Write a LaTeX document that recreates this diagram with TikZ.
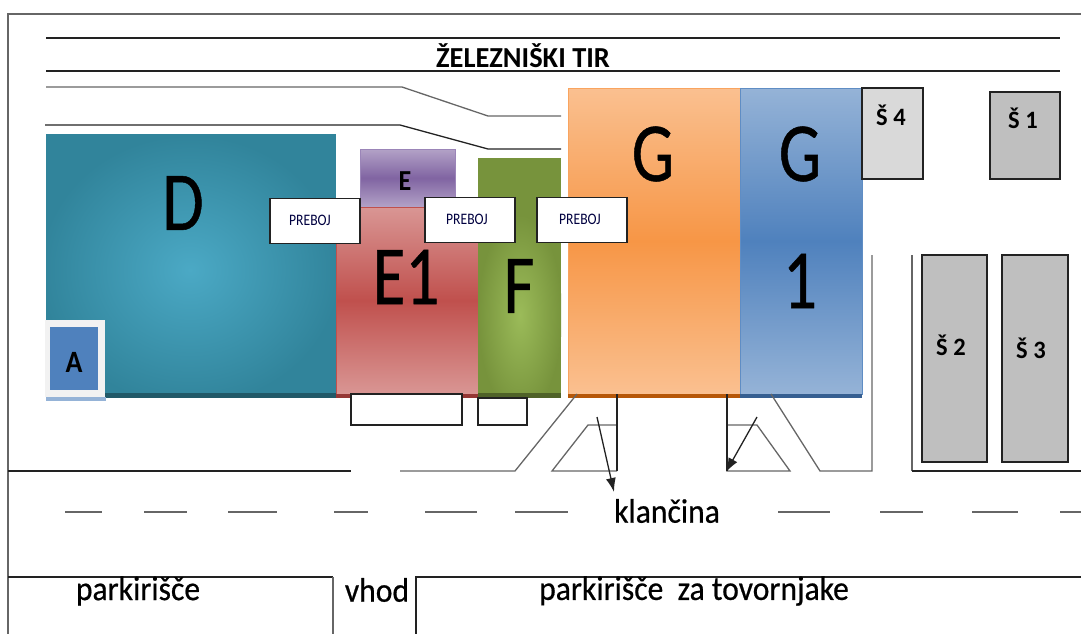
\documentclass[tikz,border=0pt]{standalone}
\usepackage{fontspec}
\usetikzlibrary{arrows.meta}
\setmainfont{Carlito}
\newfontfamily\semib[FakeBold=0.6]{Carlito}
\definecolor{lineK}{HTML}{222222}
\definecolor{lineG}{HTML}{666666}
\definecolor{dIn}{HTML}{4BA9C5}
\definecolor{dOut}{HTML}{31849B}
\definecolor{dDk}{HTML}{215968}
\definecolor{eLt}{HTML}{B3A2C7}
\definecolor{eMd}{HTML}{8064A2}
\definecolor{eBd}{HTML}{9B85B8}
\definecolor{rLt}{HTML}{D99694}
\definecolor{rMd}{HTML}{C0504D}
\definecolor{rDk}{HTML}{953735}
\definecolor{fIn}{HTML}{9BBB59}
\definecolor{fOut}{HTML}{77933C}
\definecolor{fDk}{HTML}{4F6228}
\definecolor{oLt}{HTML}{FAC090}
\definecolor{oMd}{HTML}{F79646}
\definecolor{oBd}{HTML}{F9A45F}
\definecolor{oDk}{HTML}{B65708}
\definecolor{bLt}{HTML}{95B3D7}
\definecolor{bMd}{HTML}{4F81BD}
\definecolor{bBd}{HTML}{5F8DC4}
\definecolor{bDk}{HTML}{365F91}
\definecolor{gyA}{HTML}{D9D9D9}
\definecolor{gyB}{HTML}{BFBFBF}
\definecolor{gyC}{HTML}{F2F2F2}
\tikzset{
 x=1pt,y=-1pt,
 thinK/.style={draw=lineK,line width=1.3pt},
 thinG/.style={draw=lineG,line width=1.3pt},
 prebojbox/.style={draw=lineK,fill=white,line width=1.2pt,minimum width=90pt,minimum height=45pt,inner sep=0pt},
 prebojtxt/.style={lbl,font=\fontsize{16}{16}\selectfont,xscale=.85,text=black!75!blue},
 shedbox/.style={draw=lineK,line width=1.3pt},
 lbl/.style={inner sep=0pt,text=black},
 biglbl/.style={lbl,font=\semib\fontsize{84}{84}\selectfont,xscale=.8},
 midlbl/.style={lbl,font=\bfseries\fontsize{31}{31}\selectfont,xscale=.9},
 smalllbl/.style={lbl,font=\bfseries\fontsize{25}{25}\selectfont,xscale=.98},
 roadlbl/.style={lbl,font=\semib\fontsize{34}{34}\selectfont,xscale=.93},
}
\begin{document}
\begin{tikzpicture}
\useasboundingbox (0,0) rectangle (1081,634);
% frame
\draw[thinG,line width=1.6pt] (8,634)--(8,14)--(1081,14);
% rails
\draw[thinK] (46,38)--(1060,38);
\draw[thinK] (46,71)--(1060,71);
\draw[thinG] (46,87)--(402,87)--(488,116)--(561,116);
\draw[thinK] (45,125)--(400,125)--(488,149)--(561,149);
\node[lbl,font=\bfseries\fontsize{29}{29}\selectfont,xscale=.98] (tir) at (523,56) {ŽELEZNIŠKI TIR};
% D
\fill[dOut] (46,134) rectangle (336,398);
\begin{scope}
\clip (46,134) rectangle (336,394);
\shade[inner color=dIn,outer color=dOut] (190,270) ellipse (150 and 135);
\end{scope}
\fill[dDk] (46,393) rectangle (336,398);
\node[biglbl] (d) at (183,203) {D};
% E
\fill[top color=eLt,bottom color=eLt,middle color=eMd] (360,149) rectangle (455,207);
\draw[eBd,line width=1pt] (360,149) rectangle (455,207);
\node[lbl,font=\bfseries\fontsize{29}{29}\selectfont,xscale=.9] (e) at (405,181) {E};
% E1
\fill[top color=rLt,bottom color=rLt,middle color=rMd] (336,207) rectangle (479,394);
\draw[rMd,line width=1pt] (336,207) rectangle (479,394);
\fill[rDk] (336,394) rectangle (479,398);
\node[biglbl] (e1) at (406,277) {E1};
% F
\fill[fOut] (478,158) rectangle (561,398);
\begin{scope}
\clip (478,158) rectangle (561,394);
\shade[inner color=fIn,outer color=fOut] (520,315) ellipse (42 and 100);
\end{scope}
\fill[fDk] (478,393) rectangle (561,398);
\node[biglbl] (f) at (519,286) {F};
% G
\fill[top color=oLt,bottom color=oLt,middle color=oMd] (568,88) rectangle (740,394);
\draw[oBd,line width=1pt] (568,88) rectangle (740,394);
\fill[oDk] (568,394) rectangle (740,398);
\node[biglbl] (g) at (653,154) {G};
% G1
\fill[top color=bLt,bottom color=bLt,middle color=bMd] (740,88) rectangle (862,394);
\draw[bBd,line width=1pt] (740,88) rectangle (862,394);
\fill[bDk] (740,394) rectangle (862,398);
\node[biglbl] (g1a) at (800,154) {G};
\node[biglbl] (g1b) at (800,281) {1};
% A
\fill[gyC] (45,320) rectangle (105,397);
\fill[bLt] (46,397) rectangle (106,401);
\fill[bMd] (50,327) rectangle (98,390);
\node[midlbl] (a) at (74,362) {A};
% sheds
\draw[shedbox,fill=gyA] (862,88) rectangle (923,179);
\node[smalllbl] (s4) at (891,115) {Š 4};
\draw[shedbox,fill=gyB] (990,92) rectangle (1060,179);
\node[smalllbl] (s1) at (1023,118) {Š 1};
\draw[shedbox,fill=gyB] (922,255) rectangle (987,462);
\node[smalllbl] (s2) at (951,345) {Š 2};
\draw[shedbox,fill=gyB] (1002,255) rectangle (1068,462);
\node[smalllbl] (s3) at (1031,348) {Š 3};
% small boxes
\draw[shedbox,fill=white] (351,394) rectangle (462,425);
\draw[shedbox,fill=white] (478,398) rectangle (527,425);
% preboj
\node[prebojbox] (p1) at (315,221) {};
\node[prebojtxt] (p1t) at (310,220) {PREBOJ};
\node[prebojbox] (p2) at (470,220) {};
\node[prebojtxt] (p2t) at (467,219) {PREBOJ};
\node[prebojbox] (p3) at (582,220) {};
\node[prebojtxt] (p3t) at (580,219) {PREBOJ};
% road
\draw[thinK] (8,471)--(351,471);
\draw[thinG] (400,471)--(515,471)--(577,394);
\draw[thinG] (617,471)--(552,471)--(588,425)--(617,425);
\draw[thinK] (617,394)--(617,471);
\draw[thinG] (727,471)--(790,471)--(757,425)--(727,425);
\draw[thinK] (727,394)--(727,471);
\draw[thinG] (771,394)--(820,471)--(872,471)--(872,255);
\draw[thinG] (912,255)--(912,471);
\draw[thinK] (912,471)--(1081,471);
% arrows
\coordinate (a1s) at (597,417);
\coordinate (a1e) at (614,492);
\coordinate (a2s) at (757,417);
\coordinate (a2e) at (726,472);
\draw[thinK,-{Latex[length=14pt,width=10pt]}] (a1s)--(a1e);
\draw[thinK,-{Latex[length=14pt,width=10pt]}] (a2s)--(a2e);
% centre dashes
\foreach \a/\b in {65/102,144/187,228/277,334/368,425/477,515/568,778/830,880/923,972/1018,1060/1081}
  \draw[thinG] (\a,512)--(\b,512);
\node[roadlbl] (kl) at (667,511) {klančina};
% bottom
\draw[thinK] (8,577)--(333,577);
\draw[thinG] (333,577)--(333,634);
\draw[thinK] (416,634)--(416,577)--(1081,577);
\node[roadlbl] (pk) at (138,591) {parkirišče};
\node[roadlbl] (vh) at (377,590) {vhod};
\node[roadlbl] (pt) at (694,591) {parkirišče\ \ za tovornjake};
\end{tikzpicture}
\end{document}
